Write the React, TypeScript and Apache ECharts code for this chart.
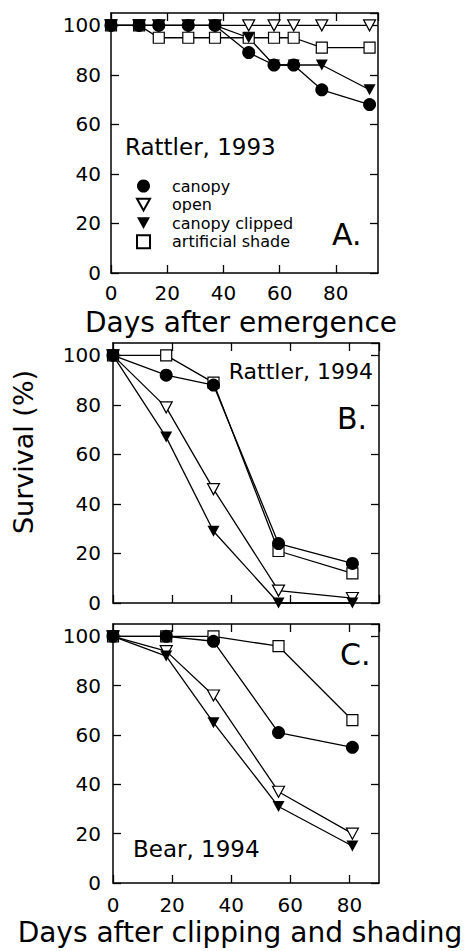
import React, { useEffect, useRef } from "react";
import * as echarts from "echarts";

// Panel A: Rattler, 1993 (days after emergence)
const daysA = [0, 10, 17, 27.5, 37, 49, 58, 65, 75, 92];
const canopyA = [100, 100, 100, 100, 100, 89, 84, 84, 74, 68];
const openA = [100, 100, 100, 100, 100, 100, 100, 100, 100, 100];
const clippedA = [100, 100, 100, 100, 100, 95, 84, 84, 84, 74];
const shadeA = [100, 100, 95, 95, 95, 95, 95, 95, 91, 91];

// Panel B: Rattler, 1994 (days after clipping and shading)
const daysB = [0, 18, 34, 56, 81];
const canopyB = [100, 92, 88, 24, 16];
const openB = [100, 79, 46, 5, 2];
const clippedB = [100, 67, 29, 0, 0];
const shadeB = [100, 100, 89, 21, 12];

// Panel C: Bear, 1994
const daysC = [0, 18, 34, 56, 81];
const canopyC = [100, 100, 98, 61, 55];
const openC = [100, 94, 76, 37, 20];
const clippedC = [100, 92, 65, 31, 15];
const shadeC = [100, 100, 100, 96, 66];

const seriesNames = ["canopy", "open", "canopy clipped", "artificial shade"];
const yTicks = [0, 20, 40, 60, 80, 100];

const FONT = "DejaVu Sans";
const TRI = "path://M0,0L10,0L5,9Z";

export default function App() {
  const ref = useRef<HTMLDivElement>(null);
  useEffect(() => {
    if (!ref.current) return;
    const chart = echarts.init(ref.current, null, { renderer: "svg" });

    const grids = [
      { left: 111, top: 13, width: 267, height: 260, xmax: 95, showX: true, xMargin: 10, yMargin: 10 },
      { left: 113, top: 343, width: 266, height: 260, xmax: 90, showX: false, xMargin: 12, yMargin: 12 },
      { left: 113, top: 624, width: 266, height: 259, xmax: 90, showX: true, xMargin: 12, yMargin: 12 },
    ];

    const tickStyle = { color: "#000", width: 1.3 };
    const lineAx = { show: true, onZero: false, lineStyle: { color: "#000", width: 1.5 } };
    const labelBase = { color: "#000", fontFamily: FONT, fontSize: 20, showMaxLabel: false };

    const xAxis: any[] = [];
    const yAxis: any[] = [];
    grids.forEach((g, p) => {
      xAxis.push({
        type: "value", gridIndex: p, position: "bottom", min: 0, max: g.xmax, interval: 20,
        axisLine: lineAx, splitLine: { show: false },
        axisTick: { inside: true, length: 8, lineStyle: tickStyle },
        axisLabel: { ...labelBase, show: g.showX, margin: g.xMargin },
      });
      xAxis.push({
        type: "value", gridIndex: p, position: "top", min: 0, max: g.xmax, interval: 20,
        axisLine: lineAx, splitLine: { show: false },
        axisTick: { inside: true, length: 8, lineStyle: tickStyle },
        axisLabel: { show: false },
      });
      yAxis.push({
        type: "value", gridIndex: p, position: "left", min: 0, max: 105, interval: 20,
        axisLine: lineAx, splitLine: { show: false },
        axisTick: { inside: true, length: 8, lineStyle: tickStyle },
        axisLabel: { ...labelBase, margin: g.yMargin, formatter: (v: number) => (yTicks.includes(v) ? String(v) : "") },
      });
      yAxis.push({
        type: "value", gridIndex: p, position: "right", min: 0, max: 105, interval: 20,
        axisLine: lineAx, splitLine: { show: false },
        axisTick: { inside: true, length: 8, lineStyle: tickStyle },
        axisLabel: { show: false },
      });
    });

    const styles: Record<string, any> = {
      canopy: { symbol: "circle", symbolSize: 13, itemStyle: { color: "#000" } },
      open: { symbol: TRI, symbolSize: [12, 11], itemStyle: { color: "#fff", borderColor: "#000", borderWidth: 1.2 } },
      "canopy clipped": { symbol: TRI, symbolSize: [12, 11], itemStyle: { color: "#000" } },
      "artificial shade": { symbol: "rect", symbolSize: 11, itemStyle: { color: "#fff", borderColor: "#000", borderWidth: 1.2 } },
    };

    const panels = [
      { days: daysA, data: { canopy: canopyA, open: openA, "canopy clipped": clippedA, "artificial shade": shadeA } },
      { days: daysB, data: { canopy: canopyB, open: openB, "canopy clipped": clippedB, "artificial shade": shadeB } },
      { days: daysC, data: { canopy: canopyC, open: openC, "canopy clipped": clippedC, "artificial shade": shadeC } },
    ];

    const drawOrder = ["artificial shade", "open", "canopy clipped", "canopy"];
    const series: any[] = [];
    panels.forEach((pn, p) => {
      drawOrder.forEach((name) => {
        const vals = (pn.data as any)[name] as number[];
        series.push({
          type: "line",
          name,
          xAxisIndex: 2 * p,
          yAxisIndex: 2 * p,
          clip: false,
          data: pn.days.map((d, i) => [d, vals[i]]),
          lineStyle: { color: "#000", width: 1.3 },
          ...styles[name],
          emphasis: { disabled: true },
        });
      });
    });

    const txt = (text: string, x: number, y: number, size: number, align = "left", rotation = 0) => ({
      type: "text",
      x,
      y,
      rotation,
      style: { text, fill: "#000", fontFamily: FONT, fontSize: size, align, verticalAlign: "middle" },
    });

    chart.setOption({
      animation: false,
      backgroundColor: "#fff",
      grid: grids.map((g) => ({ left: g.left, top: g.top, width: g.width, height: g.height, show: false, containLabel: false })),
      xAxis,
      yAxis,
      series,
      legend: {
        orient: "vertical",
        left: 136,
        top: 178,
        padding: 0,
        itemGap: 2.6,
        itemWidth: 13,
        itemHeight: 13,
        selectedMode: false,
        data: seriesNames.map((n, i) => ({ name: n, icon: ["circle", TRI, TRI, "rect"][i] })),
        textStyle: { color: "#000", fontFamily: FONT, fontSize: 16, lineHeight: 16, padding: [0, 0, 0, 17] },
      },
      graphic: [
        txt("Rattler, 1993", 125, 146.5, 23),
        txt("A.", 332, 234, 30),
        txt("Rattler, 1994", 373, 371.5, 22, "right"),
        txt("B.", 337, 418, 30),
        txt("C.", 340, 654, 30),
        txt("Bear, 1994", 133, 849, 23),
        txt("Days after emergence", 241, 322, 28, "center"),
        txt("Days after clipping and shading", 240, 932, 28, "center"),
        txt("Survival (%)", 23, 452, 27, "center", Math.PI / 2),
      ],
    });
    return () => chart.dispose();
  }, []);
  return <div ref={ref} style={{ position: "fixed", left: 0, top: 0, width: 468, height: 951 }} />;
}
